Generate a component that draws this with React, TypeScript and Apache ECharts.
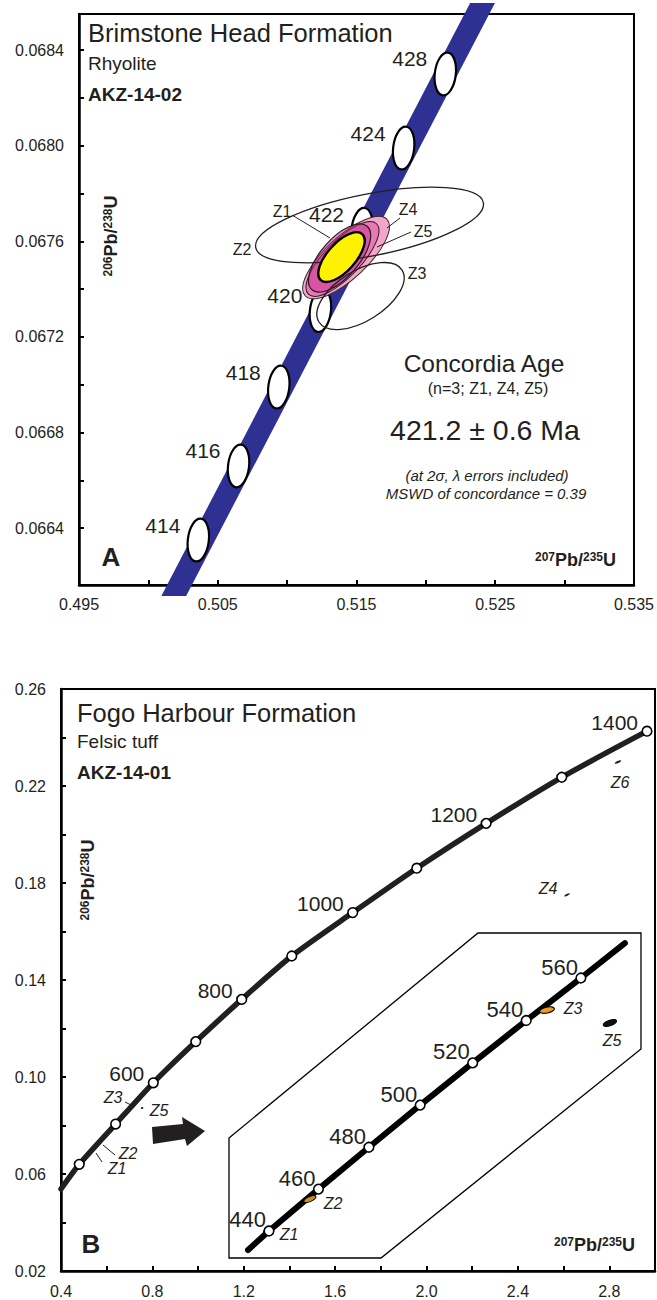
import React, { useEffect, useRef } from 'react';
import * as echarts from 'echarts';

const TXT = '#231f20';
const FONT = "'Liberation Sans', Arial, Helvetica, sans-serif";

// ---------------- Panel A (Brimstone Head Formation) ----------------
const agesA = [414, 416, 418, 420, 422, 424, 428];
const markerXA = [0.5036, 0.5065, 0.5094, 0.5124, 0.5154, 0.5184, 0.5214];
const markerYA = [0.06635, 0.06666, 0.06699, 0.06731, 0.06765, 0.06799, 0.0683];
const bandXA = [0.5013, 0.52457];
const bandYA = [0.066057, 0.068651];
const sampleNamesA = ['Z4', 'Z5', 'Z1', 'Z2', 'Z3', 'Concordia'];
const sampleXA = [0.51425, 0.51399, 0.51378, 0.51594, 0.51529, 0.51392];
const sampleYA = [0.067532, 0.067526, 0.06753, 0.067668, 0.067371, 0.067534];
const xTicksA = [0.495, 0.5, 0.505, 0.51, 0.515, 0.52, 0.525, 0.53, 0.535];
const xLabelsA = [0.495, 0.505, 0.515, 0.525, 0.535];
const yTicksA = [0.0664, 0.0666, 0.0668, 0.067, 0.0672, 0.0674, 0.0676, 0.0678, 0.068, 0.0682, 0.0684];
const yLabelsA = [0.0664, 0.0668, 0.0672, 0.0676, 0.068, 0.0684];

// ---------------- Panel B (Fogo Harbour Formation) ----------------
const agesB = [400, 500, 600, 700, 800, 900, 1000, 1100, 1200, 1300, 1400];
const markerXB = [0.48, 0.639, 0.804, 0.99, 1.191, 1.41, 1.677, 1.957, 2.261, 2.592, 2.965];
const markerYB = [0.064, 0.0806, 0.0976, 0.1146, 0.132, 0.1499, 0.1678, 0.1861, 0.2046, 0.2236, 0.2426];
const labeledAgesB = [600, 800, 1000, 1200, 1400];
const curveStartB = [0.4, 0.0538];
const sampleNamesB = ['Z1', 'Z2', 'Z3', 'Z4', 'Z5', 'Z6'];
const sampleXB = [0.5418, 0.5678, 0.7149, 2.615, 0.755, 2.838];
const sampleYB = [0.0706, 0.0732, 0.0882, 0.1751, 0.0872, 0.2299];
const xTicksB = [0.4, 0.6, 0.8, 1.0, 1.2, 1.4, 1.6, 1.8, 2.0, 2.2, 2.4, 2.6, 2.8, 3.0];
const xLabelsB = [0.4, 0.8, 1.2, 1.6, 2.0, 2.4, 2.8];
const yTicksB = [0.02, 0.04, 0.06, 0.08, 0.1, 0.12, 0.14, 0.16, 0.18, 0.2, 0.22, 0.24, 0.26];
const yLabelsB = [0.02, 0.06, 0.1, 0.14, 0.18, 0.22, 0.26];

// ---------------- Inset of panel B ----------------
const agesInset = [440, 460, 480, 500, 520, 540, 560];
const markerXInset = [0.5424, 0.5731, 0.6044, 0.6362, 0.6688, 0.702, 0.7359];
const markerYInset = [0.07064, 0.07397, 0.0773, 0.08065, 0.08401, 0.08738, 0.09076];
const lineEndsXInset = [0.5294, 0.7632];
const lineEndsYInset = [0.06913, 0.09354];
const sampleNamesInset = ['Z1', 'Z2', 'Z3', 'Z5'];
const sampleXInset = [0.5418, 0.5678, 0.7149, 0.7539];
const sampleYInset = [0.07064, 0.07318, 0.08821, 0.08718];

// ---------------- styles (pixel shapes) ----------------
const ellipseStyleA: Record<string, any> = {
  Z4: { rx: 56, ry: 21, rot: 43, fill: '#f3a6ca', stroke: '#3a2a30', lw: 1 },
  Z5: { rx: 49, ry: 18, rot: 46, fill: 'rgba(228,105,172,0.75)', stroke: '#2a1a20', lw: 1 },
  Z1: { rx: 42, ry: 19, rot: 49, fill: 'rgba(200,50,145,0.5)', stroke: '#2a1a20', lw: 1.2 },
  Z2: { rx: 116, ry: 31, rot: 11.2, fill: 'none', stroke: TXT, lw: 1.3 },
  Z3: { rx: 49, ry: 25, rot: 32, fill: 'none', stroke: TXT, lw: 1.3 },
  Concordia: { rx: 31, ry: 14, rot: 48, fill: '#fff200', stroke: '#000', lw: 2.4 },
};
const ellipseStyleB: Record<string, any> = {
  Z1: { rx: 2, ry: 1, rot: 40, fill: '#231f20' },
  Z2: { rx: 2, ry: 1, rot: 30, fill: '#231f20' },
  Z3: { rx: 2, ry: 1, rot: 20, fill: '#231f20' },
  Z4: { rx: 3, ry: 1, rot: 25, fill: '#231f20' },
  Z5: { rx: 1.3, ry: 1, rot: 20, fill: '#231f20' },
  Z6: { rx: 3.5, ry: 1.1, rot: 25, fill: '#231f20' },
};
const ellipseStyleInset: Record<string, any> = {
  Z1: { rx: 5, ry: 3.5, rot: 40, fill: '#3a3020', stroke: '#000', lw: 1 },
  Z2: { rx: 6.5, ry: 2.5, rot: 22, fill: '#d08a20', stroke: '#000', lw: 1 },
  Z3: { rx: 7.5, ry: 3, rot: 12, fill: '#f09a20', stroke: '#000', lw: 1.2 },
  Z5: { rx: 7, ry: 2.6, rot: 20, fill: '#111', stroke: '#000', lw: 1 },
};

function axis(gridIndex: number, min: number, max: number, ticks: number[], labels: number[], digits: number, margin: number) {
  return {
    type: 'value',
    gridIndex,
    min,
    max,
    axisLine: { show: true, onZero: false, lineStyle: { color: '#000', width: 2.5 } },
    axisTick: { show: true, inside: true, length: 5, customValues: ticks, lineStyle: { color: '#000', width: 2 } },
    axisLabel: {
      show: true,
      customValues: labels,
      formatter: (v: number) => Number(v).toFixed(digits),
      color: TXT,
      fontSize: 16,
      fontFamily: FONT,
      margin,
    },
    splitLine: { show: false },
  };
}
function hiddenAxis(gridIndex: number, min: number, max: number) {
  return { type: 'value', gridIndex, min, max, show: false, splitLine: { show: false } };
}

function ellipseSeries(xIdx: number, z: number, names: string[], xs: number[], ys: number[], styles: Record<string, any>, only?: string[]) {
  const data = names
    .map((n, i) => ({ n, v: [xs[i], ys[i]] }))
    .filter((d) => !only || only.includes(d.n));
  return {
    type: 'custom',
    xAxisIndex: xIdx,
    yAxisIndex: xIdx,
    z,
    silent: true,
    data: data.map((d) => d.v),
    renderItem: (params: any, api: any) => {
      const s = styles[data[params.dataIndex].n];
      const p = api.coord([api.value(0), api.value(1)]);
      return {
        type: 'ellipse',
        x: p[0],
        y: p[1],
        rotation: (s.rot * Math.PI) / 180,
        shape: { cx: 0, cy: 0, rx: s.rx, ry: s.ry },
        style: { fill: s.fill, stroke: s.stroke || null, lineWidth: s.lw || 0 },
      };
    },
  };
}

function markerSeries(xIdx: number, z: number, ages: number[], xs: number[], ys: number[], kind: 'ellipse' | 'circle', labelDx: number, labelDy: number, fontSize: number, labeled?: number[]) {
  return {
    type: 'custom',
    xAxisIndex: xIdx,
    yAxisIndex: xIdx,
    z,
    silent: true,
    data: ages.map((a, i) => [xs[i], ys[i], a]),
    renderItem: (params: any, api: any) => {
      const p = api.coord([api.value(0), api.value(1)]);
      const age = ages[params.dataIndex];
      const children: any[] = [];
      if (kind === 'ellipse') {
        children.push({
          type: 'ellipse',
          x: p[0],
          y: p[1],
          rotation: -0.12,
          shape: { cx: 0, cy: 0, rx: 10.5, ry: 21.5 },
          style: { fill: '#fff', stroke: '#000', lineWidth: 2.2 },
        });
      } else {
        children.push({
          type: 'circle',
          shape: { cx: p[0], cy: p[1], r: 4.8 },
          style: { fill: '#fff', stroke: '#000', lineWidth: 1.6 },
        });
      }
      if (!labeled || labeled.includes(age)) {
        children.push({
          type: 'text',
          z2: 100,
          x: p[0] + labelDx,
          y: p[1] + labelDy,
          style: { text: String(age), fill: TXT, fontSize, fontFamily: FONT, align: 'right', verticalAlign: 'middle' },
        });
      }
      return { type: 'group', children };
    },
  };
}

function txt(text: string, x: number, y: number, size: number, o: any = {}) {
  return {
    type: 'text',
    x,
    y,
    silent: true,
    z: 50,
    style: {
      text,
      fill: TXT,
      fontSize: size,
      fontFamily: FONT,
      fontWeight: o.bold ? 'bold' : 'normal',
      fontStyle: o.italic ? 'italic' : 'normal',
      align: o.align || 'left',
      verticalAlign: 'middle',
    },
  };
}
function iso(a: string, b: string, x: number, y: number, rot: number, align: string) {
  return {
    type: 'text',
    x,
    y,
    rotation: rot,
    silent: true,
    z: 50,
    style: {
      text: `{s|${a}}{m|Pb/}{s|${b}}{m|U}`,
      align,
      verticalAlign: 'middle',
      rich: {
        s: { fontSize: 12, fontWeight: 'bold', fontFamily: FONT, fill: TXT, verticalAlign: 'top' },
        m: { fontSize: 18, fontWeight: 'bold', fontFamily: FONT, fill: TXT },
      },
    },
  };
}
function seg(x1: number, y1: number, x2: number, y2: number) {
  return { type: 'line', silent: true, z: 50, shape: { x1, y1, x2, y2 }, style: { stroke: TXT, lineWidth: 1 } };
}

function buildOption(): any {
  return {
    animation: false,
    backgroundColor: '#fff',
    grid: [
      { left: 79, top: 14, width: 556, height: 571, show: true, borderColor: '#000', borderWidth: 2, backgroundColor: 'transparent' },
      { left: 61, top: 689, width: 594, height: 582, show: true, borderColor: '#000', borderWidth: 2, backgroundColor: 'transparent' },
      { left: 229, top: 933, width: 412, height: 325, show: false },
    ],
    xAxis: [
      axis(0, 0.495, 0.535, xTicksA, xLabelsA, 3, 11),
      axis(1, 0.4, 3.0, xTicksB, xLabelsB, 1, 12),
      hiddenAxis(2, 0.5176, 0.7732),
    ],
    yAxis: [
      axis(0, 0.066162, 0.068551, yTicksA, yLabelsA, 4, 15),
      axis(1, 0.02, 0.26, yTicksB, yLabelsB, 2, 15),
      hiddenAxis(2, 0.06849, 0.09434),
    ],
    series: [
      // Panel A concordia band
      {
        type: 'line',
        xAxisIndex: 0,
        yAxisIndex: 0,
        z: 1,
        silent: true,
        clip: true,
        symbol: 'none',
        data: bandXA.map((x, i) => [x, bandYA[i]]),
        lineStyle: { color: '#2e3192', width: 22, cap: 'butt' },
      },
      markerSeries(0, 3, agesA, markerXA, markerYA, 'ellipse', -18, -15, 21),
      ellipseSeries(0, 4, sampleNamesA, sampleXA, sampleYA, ellipseStyleA, ['Z4', 'Z5', 'Z1']),
      ellipseSeries(0, 5, sampleNamesA, sampleXA, sampleYA, ellipseStyleA, ['Z2', 'Z3']),
      ellipseSeries(0, 6, sampleNamesA, sampleXA, sampleYA, ellipseStyleA, ['Concordia']),
      // Panel B concordia curve
      {
        type: 'line',
        xAxisIndex: 1,
        yAxisIndex: 1,
        z: 1,
        silent: true,
        clip: true,
        symbol: 'none',
        smooth: 0.25,
        data: [curveStartB, ...markerXB.map((x, i) => [x, markerYB[i]])],
        lineStyle: { color: TXT, width: 5.5, cap: 'round' },
      },
      markerSeries(1, 3, agesB, markerXB, markerYB, 'circle', -9, -9, 21, labeledAgesB),
      ellipseSeries(1, 4, sampleNamesB, sampleXB, sampleYB, ellipseStyleB),
      // Inset
      {
        type: 'line',
        xAxisIndex: 2,
        yAxisIndex: 2,
        z: 1,
        silent: true,
        symbol: 'none',
        data: [
          [lineEndsXInset[0], lineEndsYInset[0]],
          ...markerXInset.map((x, i) => [x, markerYInset[i]]),
          [lineEndsXInset[1], lineEndsYInset[1]],
        ],
        lineStyle: { color: '#000', width: 6, cap: 'round' },
      },
      ellipseSeries(2, 3, sampleNamesInset, sampleXInset, sampleYInset, ellipseStyleInset),
      markerSeries(2, 4, agesInset, markerXInset, markerYInset, 'circle', -3, -11, 22),
    ],
    graphic: {
      elements: [
        // Panel A texts
        txt('Brimstone Head Formation', 88, 33, 25.5),
        txt('Rhyolite', 88, 63, 19),
        txt('AKZ-14-02', 88, 94, 19, { bold: true }),
        iso('206', '238', 111, 236, Math.PI / 2, 'center'),
        iso('207', '235', 616, 560, 0, 'right'),
        txt('A', 111, 557, 26, { bold: true, align: 'center' }),
        txt('Concordia Age', 484, 363, 24.5, { align: 'center' }),
        txt('(n=3; Z1, Z4, Z5)', 488, 388, 16, { align: 'center' }),
        txt('421.2 ± 0.6 Ma', 485, 430, 28.5, { align: 'center' }),
        txt('(at 2σ, λ errors included)', 487, 475, 15, { italic: true, align: 'center' }),
        txt('MSWD of concordance = 0.39', 486, 493, 15, { italic: true, align: 'center' }),
        txt('Z1', 282, 211, 16, { align: 'center' }),
        txt('Z2', 242, 249, 16, { align: 'center' }),
        txt('Z3', 417, 273, 16, { align: 'center' }),
        txt('Z4', 408, 209, 16, { align: 'center' }),
        txt('Z5', 423, 231, 16, { align: 'center' }),
        seg(292, 215, 330, 238),
        seg(400, 218, 387, 228),
        seg(411, 232, 377, 247),
        // Panel B texts
        txt('Fogo Harbour Formation', 77, 713, 25.5),
        txt('Felsic tuff', 77, 741, 19),
        txt('AKZ-14-01', 77, 772, 19, { bold: true }),
        iso('206', '238', 88, 880, Math.PI / 2, 'center'),
        iso('207', '235', 635, 1245, 0, 'right'),
        txt('B', 91, 1244, 26, { bold: true, align: 'center' }),
        txt('Z6', 620, 782, 16, { italic: true, align: 'center' }),
        txt('Z4', 548, 888, 16, { italic: true, align: 'center' }),
        txt('Z3', 113, 1097, 16, { italic: true, align: 'center' }),
        txt('Z5', 159, 1110, 16, { italic: true, align: 'center' }),
        txt('Z2', 128, 1153, 16, { italic: true, align: 'center' }),
        txt('Z1', 117, 1168, 16, { italic: true, align: 'center' }),
        seg(125, 1102, 133, 1106),
        seg(103, 1145, 115, 1155),
        seg(96, 1153, 102, 1162),
        {
          type: 'polygon',
          silent: true,
          z: 50,
          shape: { points: [[152, 1127], [183, 1124], [182, 1117], [205, 1131], [187, 1146], [185, 1139], [153, 1144]] },
          style: { fill: TXT },
        },
        {
          type: 'polygon',
          silent: true,
          z: 0,
          shape: { points: [[229, 1138], [478, 933], [641, 933], [641, 1049], [381, 1258], [229, 1258]] },
          style: { fill: 'none', stroke: '#000', lineWidth: 1.3 },
        },
        txt('Z1', 289, 1234, 16, { italic: true, align: 'center' }),
        txt('Z2', 333, 1203, 16, { italic: true, align: 'center' }),
        txt('Z3', 573, 1008, 16, { italic: true, align: 'center' }),
        txt('Z5', 612, 1040, 16, { italic: true, align: 'center' }),
      ],
    },
  };
}

export default function App() {
  const ref = useRef<HTMLDivElement>(null);
  useEffect(() => {
    const chart = echarts.init(ref.current as HTMLDivElement, null, { renderer: 'svg' });
    chart.setOption(buildOption());
    return () => chart.dispose();
  }, []);
  return (
    <div
      ref={ref}
      style={{ position: 'absolute', left: 0, top: 0, width: 657, height: 1300, background: '#fff' }}
    />
  );
}
